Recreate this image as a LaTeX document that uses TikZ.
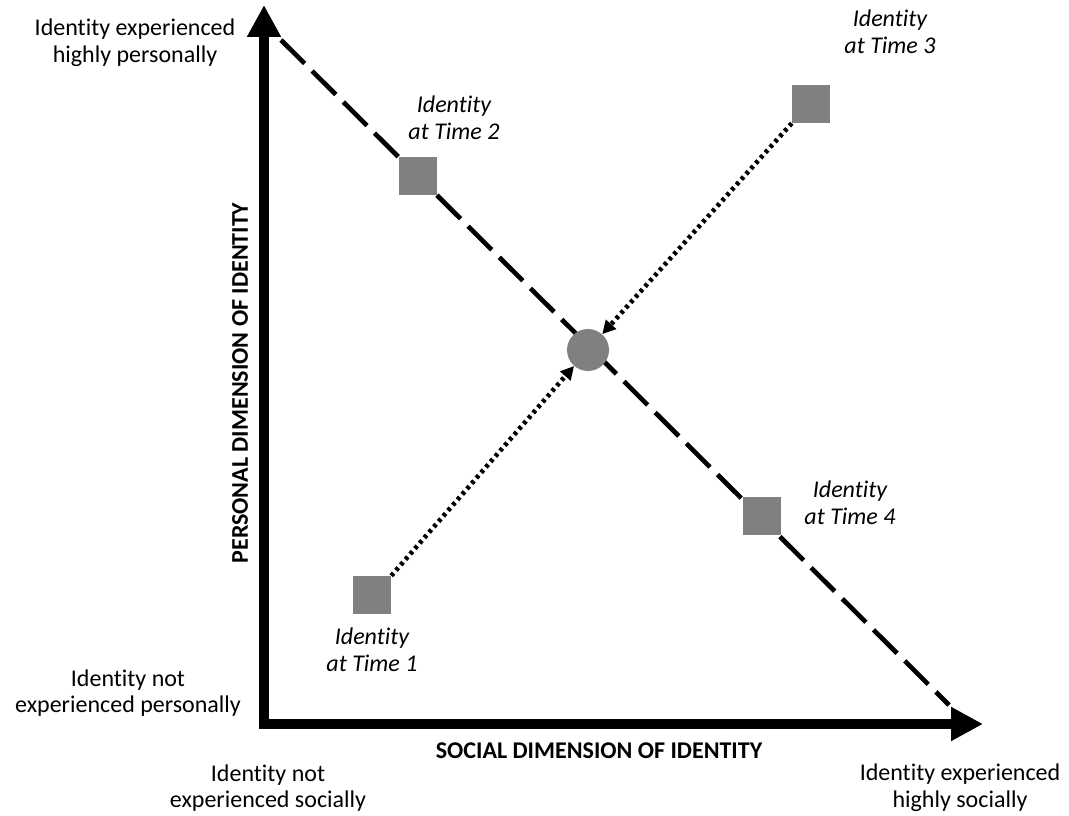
\documentclass[tikz,border=0pt]{standalone}
\usepackage{fontspec}
\setmainfont{Carlito}[Ligatures=NoCommon]
\usetikzlibrary{arrows.meta}

\begin{document}
\begin{tikzpicture}[x=0.75pt,y=-0.75pt,
        every node/.style={font=\fontsize{18}{20}\selectfont, align=center},
        marker/.style={fill=gray, minimum size=28.5pt, inner sep=0pt},
        timelabel/.style={font=\fontsize{18}{20}\selectfont\itshape},
        axislabel/.style={font=\fontsize{18}{20}\selectfont\bfseries},
        dotarrow/.style={line width=3.5pt, dash pattern=on 2.6pt off 2.8pt, -{Triangle[length=10pt,width=10pt]}}]

        \useasboundingbox (0,0) rectangle (1069,816);

        % axes
        \coordinate (O) at (264,724);
        \coordinate (topy) at (264,5);
        \coordinate (rightx) at (983,724);
        \draw[line width=7.5pt, line join=miter, {Triangle[length=24pt,width=24pt]}-{Triangle[length=24pt,width=24pt]}] (topy) -- (O) -- (rightx);

        % dashed diagonal
        \coordinate (dtop) at (281,40);
        \coordinate (dbot) at (949,705);
        \draw[line width=3.5pt, dash pattern=on 25pt off 8pt] (dtop) -- (dbot);

        % identity markers
        \node[marker] (t1) at (372,595) {};
        \node[marker] (t2) at (418,176) {};
        \node[marker] (t3) at (811,104) {};
        \node[marker] (t4) at (762,516) {};
        \node[fill=gray, circle, minimum size=31.5pt, inner sep=0pt] (mid) at (588,350) {};

        \draw[dotarrow] (t1.north east) -- (mid);
        \draw[dotarrow] (t3.south west) -- (mid);

        % labels
        \node[timelabel] (l1) at (372,650) {Identity\\at Time 1};
        \node[timelabel] (l2) at (454,118) {Identity\\at Time 2};
        \node[timelabel] (l3) at (890,32) {Identity\\at Time 3};
        \node[timelabel] (l4) at (850,503) {Identity\\at Time 4};

        \node (hp) at (135,43) {Identity experienced\\highly personally};
        \node (np) at (128,693) {Identity not\\experienced personally};
        \node (ns) at (268,788) {Identity not\\experienced socially};
        \node (hs) at (960,788) {Identity experienced\\highly socially};

        \node[axislabel] (sx) at (599,751) {SOCIAL DIMENSION OF IDENTITY};
        \node[axislabel, rotate=90] (py) at (240,383) {PERSONAL DIMENSION OF IDENTITY};

    \end{tikzpicture}
\end{document}
